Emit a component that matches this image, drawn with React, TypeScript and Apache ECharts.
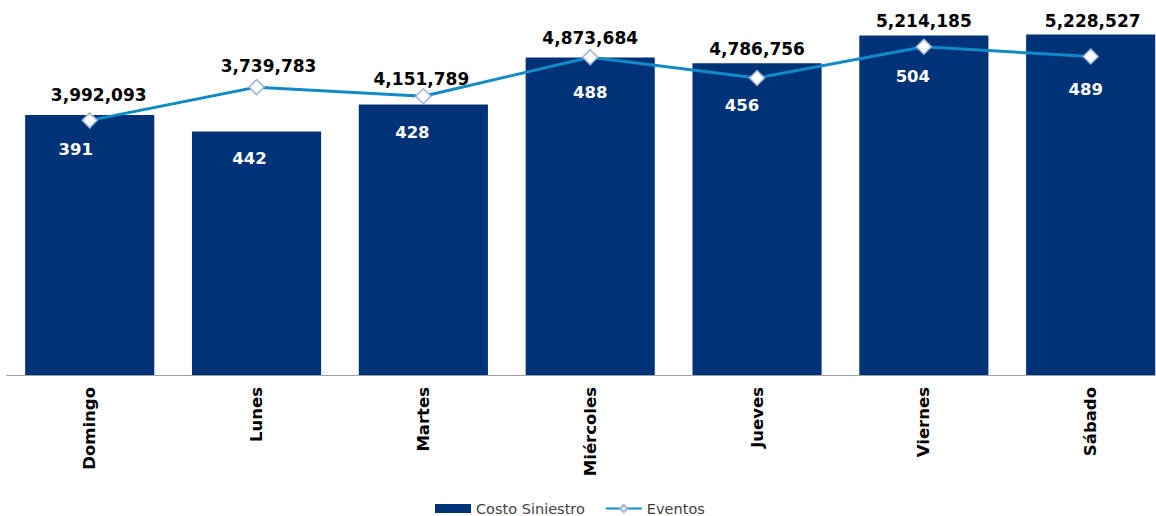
import React, { useEffect, useRef } from "react";
import * as echarts from "echarts";

const categories = ["Domingo", "Lunes", "Martes", "Miércoles", "Jueves", "Viernes", "Sábado"];
const costoSiniestro = [3992093, 3739783, 4151789, 4873684, 4786756, 5214185, 5228527];
const eventos = [391, 442, 428, 488, 456, 504, 489];

// label nudges (style only), in pixels
const costoLabelOffsets = [[9, -12], [12, -57], [-2, -18], [0, -12], [0, -6], [0, -6], [2, -5]];
const eventosLabelOffsets = [[-14, 29], [-7, 71], [-11, 36], [0, 35], [-15, 27], [-11, 30], [-5, 33]];

const FONT = "DejaVu Sans";

export default function App() {
  const ref = useRef<HTMLDivElement>(null);
  useEffect(() => {
    if (!ref.current) return;
    const chart = echarts.init(ref.current, undefined, { renderer: "svg" });
    const fmt = (v: number) => v.toLocaleString("en-US");
    chart.setOption({
      animation: false,
      legend: {
        left: 430,
        top: 496,
        itemWidth: 36,
        itemHeight: 9,
        itemGap: 20,
        textStyle: { fontFamily: FONT, fontSize: 14.5, color: "#404040", lineHeight: 14 },
        data: [
          { name: "Costo Siniestro", icon: "rect" },
          { name: "Eventos" },
        ],
      },
      grid: { left: 6.3, right: 5.9, top: 16.8, bottom: 141 },
      xAxis: {
        type: "category",
        data: categories,
        axisTick: { show: false },
        axisLine: { lineStyle: { color: "#A0A0A0", width: 1 } },
        axisLabel: {
          rotate: 90,
          margin: 12,
          fontFamily: FONT,
          fontWeight: "bold",
          fontSize: 16.5,
          color: "#000",
        },
      },
      yAxis: [
        { type: "value", min: 0, max: 5500000, show: false, splitLine: { show: false } },
        { type: "value", min: 0, max: 550, show: false, splitLine: { show: false } },
      ],
      series: [
        {
          name: "Costo Siniestro",
          type: "bar",
          yAxisIndex: 0,
          barCategoryGap: "22.6%",
          itemStyle: { color: "#003278" },
          data: costoSiniestro.map((v, i) => ({
            value: v,
            label: { offset: costoLabelOffsets[i] },
          })),
          label: {
            show: true,
            position: "top",
            distance: 0,
            fontFamily: FONT,
            fontWeight: "bold",
            fontSize: 17,
            lineHeight: 16,
            color: "#000",
            formatter: (p: any) => fmt(p.value),
          },
          z: 1,
        },
        {
          name: "Eventos",
          type: "line",
          yAxisIndex: 1,
          symbol: "diamond",
          symbolSize: 15,
          lineStyle: { color: "#128AC8", width: 3 },
          itemStyle: { color: "#FFFFFF", borderColor: "#9FB4DA", borderWidth: 1.5 },
          data: eventos.map((v, i) => ({
            value: v,
            label: { offset: eventosLabelOffsets[i] },
          })),
          label: {
            show: true,
            position: "inside",
            fontFamily: FONT,
            fontWeight: "bold",
            fontSize: 16.5,
            color: "#FFFFFF",
          },
          z: 3,
        },
      ],
    });
    return () => chart.dispose();
  }, []);
  return (
    <div style={{ position: "fixed", left: 0, top: 0, width: 1156, height: 516, overflow: "hidden", background: "#fff" }}>
      <div ref={ref} style={{ width: 1180, height: 516 }} />
    </div>
  );
}
